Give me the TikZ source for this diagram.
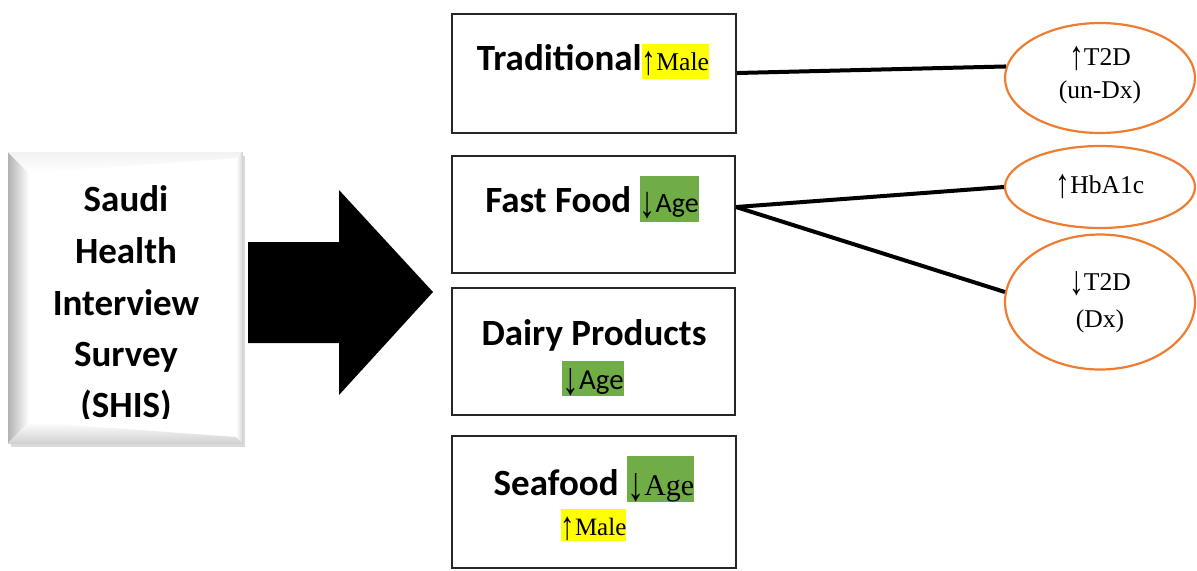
\documentclass[tikz,border=0pt]{standalone}
\usepackage{fontspec}
\usepackage{graphicx}
\setmainfont{Liberation Serif}
\newfontfamily\calib{Carlito}
\newfontfamily\lsans{Liberation Sans}
\usetikzlibrary{shadows,shapes.geometric,calc}
\definecolor{hy}{HTML}{FFFF00}
\definecolor{hg}{HTML}{70AD47}
\definecolor{orng}{HTML}{ED7D31}
\newcommand\bt{\calib\bfseries\fontsize{18.5}{22}\selectfont}
\newcommand\hlx[4]{{\setlength\fboxsep{0pt}\colorbox{#1}{\rule[-#3]{0pt}{\dimexpr#2+#3\relax}#4}}}
\newcommand\uarr{\raisebox{-0.18em}{\scalebox{1.15}[1.6]{↑}}}
\newcommand\darr{\raisebox{-0.18em}{\scalebox{1.15}[1.6]{↓}}}
\newcommand\sdarr{\raisebox{-0.18em}{\scalebox{1.15}[1.6]{\lsans ↓}}}
\tikzset{
  catbox/.style={draw=black!85, line width=1pt, fill=white, inner sep=0pt},
  outc/.style={ellipse, draw=orng, line width=1.1pt, inner sep=0pt},
  link/.style={line width=2pt},
  lbl/.style={anchor=base, inner sep=0pt},
  serif/.style={font=\fontsize{12.8}{15}\selectfont},
}
\begin{document}
\begin{tikzpicture}[x=0.5pt,y=-0.5pt]
\useasboundingbox (0,0) rectangle (1197,570);

% SHIS bevelled box
\node[fill=white, draw=black!18, line width=0.4pt, minimum width=117pt, minimum height=145.5pt, inner sep=0pt,
      drop shadow={opacity=0.3, shadow xshift=1.5pt, shadow yshift=-2pt}] (shis) at (125,297.5) {};
\shade[left color=black!30, right color=white] (8,152) -- (29,173) -- (29,422) -- (8,443) -- cycle;
\shade[top color=black!5, bottom color=white] (8,152) -- (242,152) -- (236,158) -- (29,173) -- cycle;
\shade[left color=white, right color=black!14] (242,152) -- (242,443) -- (236,437) -- (236,158) -- cycle;
\shade[top color=white, bottom color=black!18] (8,443) -- (242,443) -- (236,437) -- (29,422) -- cycle;
\begin{scope}
\clip (8,152) rectangle (242,418);
\foreach \t/\y [count=\i] in {Saudi/211, Health/263, Interview/315, Survey/366, (SHIS)/417}
  \node[lbl, font=\bt] (s\i) at (126,\y) {\t};
\end{scope}

% big arrow
\fill[black] (248,242) -- (339,242) -- (339,190) -- (433,292) -- (339,395) -- (339,343) -- (248,343) -- cycle;

% category boxes
\node[catbox, minimum width=142pt, minimum height=59.5pt] (trad) at (594,73.5) {};
\node[catbox, minimum width=141.5pt, minimum height=58.5pt] (ff) at (593.5,214.5) {};
\node[catbox, minimum width=141.5pt, minimum height=63.5pt] (dairy) at (593.5,351.5) {};
\node[catbox, minimum width=142pt, minimum height=66pt] (sea) at (594,502) {};

\node[lbl] (tradt) at (593,70) {{\bt Traditional}\hlx{hy}{13pt}{4.5pt}{\fontsize{12.8}{15}\selectfont \uarr Male}};
\node[lbl] (fft) at (592,212) {{\bt Fast Food }\hlx{hg}{18pt}{5pt}{\calib\fontsize{14}{16}\selectfont\sdarr Age}};
\node[lbl] (dairyt) at (594,345) {\bt Dairy Products};
\node[lbl] (dairya) at (593,389) {\hlx{hg}{14pt}{3.5pt}{\calib\fontsize{14.5}{16}\selectfont\sdarr Age}};
\node[lbl] (seat) at (594,495) {{\bt Seafood }\hlx{hg}{19.5pt}{3.5pt}{\fontsize{15}{17}\selectfont \darr Age}};
\node[lbl] (seam) at (593.5,535) {\hlx{hy}{13pt}{2pt}{\fontsize{12.5}{14}\selectfont \uarr Male}};

% outcome ellipses
\node[outc, minimum width=95pt, minimum height=55pt] (e1) at (1100,78) {};
\node[outc, minimum width=95pt, minimum height=41pt] (e2) at (1100,187) {};
\node[outc, minimum width=95pt, minimum height=67.5pt] (e3) at (1100,302) {};

\node[lbl, serif] (e1a) at (1100,65) {\uarr T2D};
\node[lbl, serif] (e1b) at (1100,98) {(un-Dx)};
\node[lbl, serif] (e2a) at (1100,193) {\uarr HbA1c};
\node[lbl, serif] (e3a) at (1100,290) {\darr T2D};
\node[lbl, serif] (e3b) at (1100,327) {(Dx)};

% connectors
\draw[link] ($(trad.east)+(0,-0.5)$) -- (e1.173);
\draw[link] ($(ff.east)+(0,-7.5)$) coordinate (ffo) -- (e2.west);
\draw[link] (ffo) -- (e3.174);
\end{tikzpicture}
\end{document}
